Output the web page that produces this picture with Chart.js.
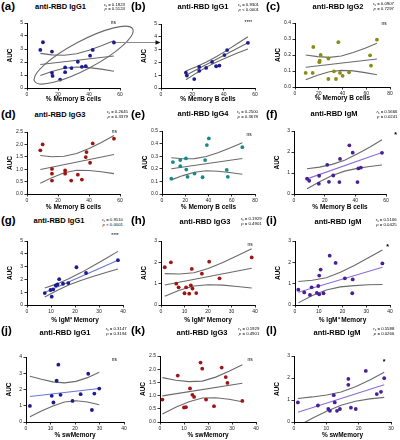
<!DOCTYPE html>
<html>
<head>
<meta charset="utf-8">
<script src="https://cdn.jsdelivr.net/npm/chart.js@4.4.1/dist/chart.umd.min.js"></script>
<style>
  body { margin: 0; width: 400px; height: 440px; position: relative; background: #fff; overflow: hidden;
         font-family: "Liberation Sans", Arial, sans-serif; color: #000; }
  canvas { position: absolute; }
  .t { position: absolute; white-space: nowrap; line-height: 1; }
  .letter { font-weight: bold; font-size: 11.5px; }
  .title { font-weight: bold; font-size: 7.5px; transform: translate(-50%, -50%); }
  .stat { font-size: 4.3px; line-height: 3.4px; text-align: right; transform: translateX(-100%); }
  .stat sub { font-size: 3px; vertical-align: -0.5px; }
  .mark { font-size: 4.8px; transform: translate(-50%, -50%); }
  .star { font-size: 7px; font-weight: bold; transform: translate(-50%, -35%); }
  svg { position: absolute; left: 0; top: 0; }
</style>
</head>
<body>
<script>
// ---- data ----
// (a) anti-RBD IgG1 vs % Memory B cells (all)
const aX = [8.6, 10.3, 16.1, 16.1, 16.5, 21.4, 24.6, 24.6, 28.7, 32.8, 35.4, 37.9, 40.7, 42.4, 56.1];
const aY = [2.93, 3.52, 2.80, 1.17, 0.93, 0.65, 1.58, 1.22, 1.53, 2.02, 1.63, 1.68, 2.49, 2.93, 3.50];
const aFitX = [8.6, 56.1], aFitY = [1.81, 2.46];
const aBandX = [8.6, 16, 24, 32, 40, 48, 56.1];
const aUp = [2.66, 2.55, 2.52, 2.64, 2.91, 3.25, 3.63];
const aLo = [0.96, 1.27, 1.52, 1.62, 1.57, 1.45, 1.29];

// (b) anti-RBD IgG1 vs % Memory B cells (circled group)
const bX = [15.9, 16.5, 21.2, 24.4, 24.4, 28.8, 32.6, 35.2, 37.3, 40.5, 42.2, 55.5];
const bY = [1.20, 0.97, 0.70, 1.65, 1.34, 1.57, 2.04, 1.70, 1.75, 2.57, 2.96, 3.53];
const bFitX = [15.9, 55.5], bFitY = [0.99, 3.53];
const bBandX = [15.9, 22.5, 29, 35.5, 42, 48.8, 55.5];
const bUp = [1.33, 1.66, 2.03, 2.46, 2.94, 3.47, 4.01];
const bLo = [0.65, 1.16, 1.63, 2.04, 2.38, 2.73, 3.05];

// (c) anti-RBD IgG2
const cX = [9.0, 14.9, 15.4, 20.5, 20.8, 21.6, 28.1, 28.1, 32.8, 34.5, 36.5, 37.9, 40.1, 45.5, 63.2, 64.0, 69.0];
const cY = [0.088, 0.088, 0.250, 0.155, 0.165, 0.200, 0.178, 0.050, 0.098, 0.050, 0.280, 0.088, 0.070, 0.092, 0.198, 0.133, 0.296];
const cFitX = [9, 69], cFitY = [0.123, 0.175];
const cBandX = [9, 19, 29, 39, 49, 59, 69];
const cUp = [0.200, 0.190, 0.185, 0.194, 0.215, 0.242, 0.273];
const cLo = [0.046, 0.074, 0.095, 0.104, 0.101, 0.090, 0.077];

// (d) anti-RBD IgG3
const dX = [8.6, 10.1, 16.1, 16.1, 16.1, 24.6, 24.6, 28.5, 32.8, 35.4, 37.9, 38.4, 40.7, 42.4, 56.1];
const dY = [1.76, 2.00, 1.01, 0.82, 0.54, 0.95, 0.82, 0.54, 0.78, 0.58, 1.49, 1.69, 1.26, 2.04, 2.23];
const dFitX = [8.6, 56.1], dFitY = [0.99, 1.59];
const dBandX = [8.6, 16, 24, 32, 40, 48, 56.1];
const dUp = [1.55, 1.50, 1.52, 1.63, 1.83, 2.08, 2.36];
const dLo = [0.43, 0.66, 0.86, 0.96, 0.95, 0.90, 0.82];

// (e) anti-RBD IgG4
const eX = [8.0, 9.4, 15.7, 15.7, 20.6, 20.9, 22.0, 28.0, 34.9, 37.1, 38.6, 40.3, 55.7, 56.6, 69.1];
const eY = [0.122, 0.253, 0.269, 0.221, 0.282, 0.194, 0.136, 0.162, 0.133, 0.269, 0.388, 0.441, 0.191, 0.136, 0.372];
const eFitX = [8, 69.1], eFitY = [0.200, 0.282];
const eBandX = [8, 18, 28, 38, 48, 58, 69.1];
const eUp = [0.288, 0.280, 0.281, 0.297, 0.327, 0.363, 0.407];
const eLo = [0.112, 0.146, 0.173, 0.184, 0.181, 0.171, 0.157];

// (f) anti-RBD IgM
const fX = [8.5, 9.9, 16.2, 16.4, 21.7, 22.8, 25.6, 29.6, 30.0, 36.1, 38.3, 41.4, 42.0, 43.6, 57.4];
const fY = [0.73, 0.63, 0.49, 0.87, 1.39, 0.58, 0.88, 0.57, 1.67, 2.32, 1.97, 0.57, 1.22, 1.26, 1.96];
const fFitX = [8.5, 57.4], fFitY = [0.72, 1.98];
const fBandX = [8.5, 16.7, 24.8, 33, 41.2, 49.3, 57.4];
const fUp = [1.20, 1.28, 1.41, 1.61, 1.90, 2.23, 2.58];
const fLo = [0.25, 0.58, 0.88, 1.09, 1.22, 1.31, 1.38];

// (g) anti-RBD IgG1 vs % IgM+ Memory
const gX = [7.4, 9.8, 10.3, 10.9, 12.0, 12.7, 13.4, 15.0, 17.2, 20.6, 24.6, 37.9];
const gY = [0.93, 1.17, 0.65, 1.22, 1.53, 1.60, 2.02, 1.66, 1.71, 2.95, 2.50, 3.50];
const gFitX = [7.4, 37.9], gFitY = [0.97, 3.50];
const gBandX = [7.4, 12.5, 17.6, 22.7, 27.8, 32.9, 37.9];
const gUp = [1.32, 1.65, 2.07, 2.55, 3.08, 3.64, 4.19];
const gLo = [0.62, 1.13, 1.58, 1.93, 2.24, 2.54, 2.81];

// (h) anti-RBD IgG3 vs % IgM+ Memory
const hX = [1.6, 4.2, 6.5, 7.5, 10.0, 10.7, 12.0, 12.7, 13.1, 13.4, 15.0, 17.4, 20.5, 24.9, 38.6];
const hY = [1.77, 2.00, 1.00, 0.83, 0.55, 0.83, 0.53, 0.92, 1.69, 0.77, 0.56, 1.47, 2.03, 1.25, 2.23];
const hFitX = [1.6, 38.6], hFitY = [0.94, 1.72];
const hBandX = [1.6, 7.8, 14, 20.1, 26.3, 32.4, 38.6];
const hUp = [1.47, 1.45, 1.51, 1.71, 1.99, 2.31, 2.64];
const hLo = [0.41, 0.69, 0.89, 0.95, 0.93, 0.87, 0.80];

// (i) anti-RBD IgM vs % IgM+ Memory
const iX = [1.4, 3.9, 6.3, 7.0, 9.2, 9.8, 10.2, 10.2, 10.8, 12.0, 14.6, 17.1, 21.0, 24.3, 24.1, 36.8];
const iY = [0.72, 0.59, 0.47, 0.83, 0.57, 0.89, 0.50, 1.38, 1.66, 0.55, 2.31, 1.97, 1.25, 1.20, 0.55, 1.95];
const iFitX = [1.4, 36.8], iFitY = [0.60, 1.77];
const iBandX = [1.4, 7.3, 13.2, 19.1, 25, 30.9, 36.8];
const iUp = [1.10, 1.16, 1.28, 1.53, 1.85, 2.21, 2.58];
const iLo = [0.10, 0.44, 0.70, 0.85, 0.91, 0.95, 0.96];

// (j) anti-RBD IgG1 vs % swMemory
const jX = [1.6, 10.5, 11.2, 12.5, 13.2, 14.1, 19.0, 22.3, 25.4, 26.9, 27.9, 29.9];
const jY = [0.99, 1.61, 1.20, 2.54, 3.53, 1.67, 1.30, 1.71, 2.97, 0.74, 1.75, 2.06];
const jFitX = [1.6, 29.9], jFitY = [1.57, 2.06];
const jBandX = [1.6, 6.3, 11, 15.7, 20.4, 25.1, 29.9];
const jUp = [2.82, 2.63, 2.47, 2.41, 2.50, 2.73, 3.06];
const jLo = [0.32, 0.68, 0.99, 1.23, 1.31, 1.23, 1.06];

// (k) anti-RBD IgG3 vs % swMemory
const kX = [1.0, 7.4, 10.0, 10.8, 12.5, 13.5, 14.2, 16.9, 17.6, 19.2, 22.5, 25.7, 27.4, 28.1, 34.3];
const kY = [0.85, 1.76, 0.55, 0.56, 1.27, 1.03, 0.95, 2.25, 2.02, 0.85, 0.60, 2.06, 1.70, 1.48, 0.80];
const kFitX = [1, 34.3], kFitY = [0.99, 1.47];
const kBandX = [1, 6.55, 12.1, 17.65, 23.2, 28.75, 34.3];
const kUp = [1.68, 1.58, 1.53, 1.55, 1.70, 1.92, 2.17];
const kLo = [0.30, 0.56, 0.77, 0.91, 0.92, 0.86, 0.77];

// (l) anti-RBD IgM vs % swMemory
const lX = [1.2, 7.4, 10.6, 11.1, 12.3, 12.6, 13.3, 14.2, 16.8, 16.8, 17.6, 19.1, 22.2, 25.6, 26.9, 27.9];
const lY = [0.89, 0.75, 0.59, 0.51, 1.22, 0.89, 0.51, 0.59, 1.96, 1.69, 0.65, 0.59, 2.32, 1.27, 1.37, 1.99];
const lFitX = [1.2, 27.9], lFitY = [0.44, 1.69];
const lBandX = [1.2, 5.65, 10.1, 14.55, 19, 23.45, 27.9];
const lUp = [1.07, 1.14, 1.23, 1.36, 1.60, 1.91, 2.26];
const lLo = [-0.19, 0.17, 0.49, 0.76, 0.94, 1.05, 1.12];

// ticks
const ticks60 = [0, 20, 40, 60], ticks80 = [0, 20, 40, 60, 80];
const ticks40 = [0, 10, 20, 30, 40], ticks30 = [0, 10, 20, 30];
const auc5 = [0, 1, 2, 3, 4, 5], auc4 = [0, 1, 2, 3, 4], auc3 = [0, 1, 2, 3];
const auc25 = [0, 0.5, 1, 1.5, 2, 2.5], auc25Labels = ["0.0", "0.5", "1.0", "1.5", "2.0", "2.5"];
const auc05 = [0, 0.1, 0.2, 0.3, 0.4, 0.5], auc05Labels = ["0.0", "0.1", "0.2", "0.3", "0.4", "0.5"];
const auc04 = [0, 0.1, 0.2, 0.3, 0.4], auc04Labels = ["0.0", "0.1", "0.2", "0.3", "0.4"];

// texts
const letters = ["(a)", "(b)", "(c)", "(d)", "(e)", "(f)", "(g)", "(h)", "(i)", "(j)", "(k)", "(l)"];
const titles = ["anti-RBD IgG1", "anti-RBD IgG1", "anti-RBD IgG2", "anti-RBD IgG3", "anti-RBD IgG4", "anti-RBD IgM",
                "anti-RBD IgG1", "anti-RBD IgG3", "anti-RBD IgM", "anti-RBD IgG1", "anti-RBD IgG3", "anti-RBD IgM"];
const rsVals = ["0.1823", "0.9301", "0.0907", "0.2645", "0.2500", "0.5666", "0.9510", "0.1929", "0.5166", "0.3147", "0.1929", "0.5588"];
const pVals = ["= 0.5124", "< 0.0001", "= 0.7297", "= 0.3379", "= 0.3678", "= 0.0241", "< 0.0001", "= 0.4901", "= 0.0425", "= 0.3194", "= 0.4901", "= 0.0266"];
const sig = ["ns", "****", "ns", "ns", "ns", "*", "****", "ns", "*", "ns", "ns", "*"];
const xTitles = ["% Memory B cells", "% IgM\u207A Memory", "% swMemory"];

// annotation in (a): ellipse around the group used in (b)
const ellipseA = { x1: 4.9, y1: 0.52, x2: 68.2, y2: 4.54, half: 14 };

const FONT = "'Liberation Sans', Arial, sans-serif";
const GRAY = "#6a6a6a";
const C_G1 = "#1c1c8f", C_G2 = "#8b8b12", C_G3 = "#a01414", C_G4 = "#168a8a", C_M = "#4a1f96";
const FIT_PURPLE = "#8a6ed6", FIT_BLUE = "#6a76d6";

function axis(vals, labels, title, horiz, size, pad) {
  return {
    type: "linear", min: vals[0], max: vals[vals.length - 1],
    afterBuildTicks: s => { s.ticks = vals.map(v => ({ value: v })); },
    afterFit: s => { if (horiz) s.height = size; else s.width = size; },
    ticks: { callback: (v, i) => labels[i], font: { size: 5, family: FONT }, color: "#222",
             padding: 1.5, maxRotation: 0, autoSkip: false },
    grid: { drawOnChartArea: false, drawTicks: true, tickLength: 2.5, color: "#000", lineWidth: 0.8 },
    border: { color: "#000", width: 1 },
    title: { display: true, text: title, color: "#000",
             font: { size: 6.5, weight: "bold", family: FONT }, padding: pad }
  };
}

function xy(xs, ys) { return xs.map((v, i) => ({ x: v, y: ys[i] })); }

function panel(o) {
  const [L, R, T, B] = o.box;
  const rp = o.rp || 10;
  const w = R - L + 26 + rp, h = B - T + 8 + o.xh;
  const cv = document.createElement("canvas");
  cv.width = w; cv.height = h;
  cv.style.left = (L - 26) + "px"; cv.style.top = (T - 8) + "px";
  document.body.appendChild(cv);
  const lineSet = (data, color) => ({ data, showLine: true, borderColor: color, borderWidth: 1.1,
                                      pointRadius: 0, fill: false, tension: 0 });
  new Chart(cv, {
    type: "scatter",
    data: {
      datasets: [
        { data: xy(o.px, o.py), backgroundColor: o.color, borderWidth: 0, pointRadius: 1.9 },
        lineSet(xy(o.fitX, o.fitY), o.fitColor || GRAY),
        lineSet(xy(o.bandX, o.up), GRAY),
        lineSet(xy(o.bandX, o.lo), GRAY)
      ]
    },
    options: {
      responsive: false, animation: false,
      layout: { padding: { left: 0, top: 8, right: rp, bottom: 0 } },
      plugins: { legend: { display: false }, tooltip: { enabled: false } },
      scales: {
        x: axis(o.xt, o.xl || o.xt, o.xTitle, true, o.xh, { top: 0, bottom: 1 }),
        y: axis(o.yt, o.yl || o.yt, "AUC", false, 26, { top: 5, bottom: 0 })
      }
    },
    plugins: o.extra ? [o.extra] : []
  });
}

const ellipsePlugin = {
  id: "ellipseA",
  afterDraw(chart) {
    const { ctx, scales: { x, y } } = chart;
    const x1 = x.getPixelForValue(ellipseA.x1), y1 = y.getPixelForValue(ellipseA.y1);
    const x2 = x.getPixelForValue(ellipseA.x2), y2 = y.getPixelForValue(ellipseA.y2);
    ctx.save();
    ctx.beginPath();
    ctx.ellipse((x1 + x2) / 2, (y1 + y2) / 2, Math.hypot(x2 - x1, y2 - y1) / 2, ellipseA.half,
                Math.atan2(y2 - y1, x2 - x1), 0, Math.PI * 2);
    ctx.strokeStyle = GRAY; ctx.lineWidth = 1.1; ctx.stroke();
    ctx.restore();
  }
};

// row 1
panel({ box: [27, 120, 23, 88], xh: 16, rp: 16, px: aX, py: aY, color: C_G1, fitX: aFitX, fitY: aFitY,
        bandX: aBandX, up: aUp, lo: aLo, xt: ticks60, yt: auc5, xTitle: xTitles[0], extra: ellipsePlugin });
panel({ box: [161, 255, 24, 88], xh: 16, px: bX, py: bY, color: C_G1, fitX: bFitX, fitY: bFitY,
        bandX: bBandX, up: bUp, lo: bLo, xt: ticks60, yt: auc5, xTitle: xTitles[0] });
panel({ box: [295, 390, 23, 87], xh: 16, px: cX, py: cY, color: C_G2, fitX: cFitX, fitY: cFitY,
        bandX: cBandX, up: cUp, lo: cLo, xt: ticks80, yt: auc04, yl: auc04Labels, xTitle: xTitles[0] });
// row 2
panel({ box: [27, 120, 132, 194], xh: 18, px: dX, py: dY, color: C_G3, fitX: dFitX, fitY: dFitY,
        bandX: dBandX, up: dUp, lo: dLo, xt: ticks60, yt: auc25, yl: auc25Labels, xTitle: xTitles[0] });
panel({ box: [162, 255, 131, 194], xh: 18, px: eX, py: eY, color: C_G4, fitX: eFitX, fitY: eFitY,
        bandX: eBandX, up: eUp, lo: eLo, xt: ticks80, yt: auc05, yl: auc05Labels, xTitle: xTitles[0] });
panel({ box: [294, 386, 131, 194], xh: 18, px: fX, py: fY, color: C_M, fitX: fFitX, fitY: fFitY, fitColor: FIT_PURPLE,
        bandX: fBandX, up: fUp, lo: fLo, xt: ticks60, yt: auc3, xTitle: xTitles[0] });
// row 3
panel({ box: [27, 123, 241, 305], xh: 20, px: gX, py: gY, color: C_G1, fitX: gFitX, fitY: gFitY, fitColor: FIT_BLUE,
        bandX: gBandX, up: gUp, lo: gLo, xt: ticks40, yt: auc5, xTitle: xTitles[1] });
panel({ box: [161, 255, 241, 305], xh: 20, px: hX, py: hY, color: C_G3, fitX: hFitX, fitY: hFitY,
        bandX: hBandX, up: hUp, lo: hLo, xt: ticks40, yt: auc3, xTitle: xTitles[1] });
panel({ box: [295, 390, 241, 305], xh: 20, px: iX, py: iY, color: C_M, fitX: iFitX, fitY: iFitY, fitColor: FIT_PURPLE,
        bandX: iBandX, up: iUp, lo: iLo, xt: ticks40, yt: auc3, xTitle: xTitles[1] });
// row 4
panel({ box: [26, 124, 357, 422], xh: 18, px: jX, py: jY, color: C_G1, fitX: jFitX, fitY: jFitY, fitColor: FIT_BLUE,
        bandX: jBandX, up: jUp, lo: jLo, xt: ticks40, yt: auc4, xTitle: xTitles[2] });
panel({ box: [160, 256, 356, 422], xh: 18, px: kX, py: kY, color: C_G3, fitX: kFitX, fitY: kFitY,
        bandX: kBandX, up: kUp, lo: kLo, xt: ticks40, yt: auc25, yl: auc25Labels, xTitle: xTitles[2] });
panel({ box: [294, 391, 356, 422], xh: 18, px: lX, py: lY, color: C_M, fitX: lFitX, fitY: lFitY, fitColor: FIT_PURPLE,
        bandX: lBandX, up: lUp, lo: lLo, xt: ticks30, yt: auc3, xTitle: xTitles[2] });

// ---- text overlays ----
const letterPos = [[1, 1], [131, 1], [266, 1], [1, 109], [131, 109], [266, 109],
                   [1, 215], [131, 215], [266, 215], [1, 325], [131, 325], [266, 325]];
const titlePos = [[60.5, 6.5], [203, 6.5], [338, 6.5], [60, 114.5], [203, 114.3], [334, 114.3],
                  [59, 221], [205, 222], [338, 222], [65, 333.3], [202, 332.5], [337, 333]];
const statPos = [[125, 2.5], [259, 2.6], [394, 2.3], [128, 110], [258, 110.3], [397.5, 110.3],
                 [123, 218], [261.7, 217.3], [396.7, 218], [126.7, 327], [259.3, 326.8], [394.3, 326.6]];
const sigPos = [[113.3, 23], [248.3, 23.3], [384, 24], [114.3, 132], [249, 134.7], [395.7, 133],
                [115, 236], [250, 245.3], [387.7, 244.7], [114.3, 360.3], [250, 360.3], [384, 360.3]];

function addText(cls, html, x, y) {
  const d = document.createElement("div");
  d.className = "t " + cls;
  d.innerHTML = html;
  d.style.left = x + "px"; d.style.top = y + "px";
  document.body.appendChild(d);
}
for (let i = 0; i < 12; i++) {
  addText("letter", letters[i], letterPos[i][0], letterPos[i][1]);
  addText("title", titles[i], titlePos[i][0], titlePos[i][1]);
  addText("stat", "<i>r</i><sub>s</sub> = " + rsVals[i] + "<br><i>p</i> " + pVals[i], statPos[i][0], statPos[i][1]);
  addText(sig[i] === "*" ? "star" : "mark", sig[i], sigPos[i][0], sigPos[i][1]);
}

// arrow from (a) to (b)
const svg = document.createElementNS("http://www.w3.org/2000/svg", "svg");
svg.setAttribute("width", "400"); svg.setAttribute("height", "440");
svg.innerHTML = '<line x1="116" y1="42.5" x2="157" y2="42.5" stroke="#8a8a8a" stroke-width="1"/>' +
                '<polygon points="155.5,40.3 160.5,42.5 155.5,44.7" fill="#111"/>';
document.body.appendChild(svg);
</script>
</body>
</html>
